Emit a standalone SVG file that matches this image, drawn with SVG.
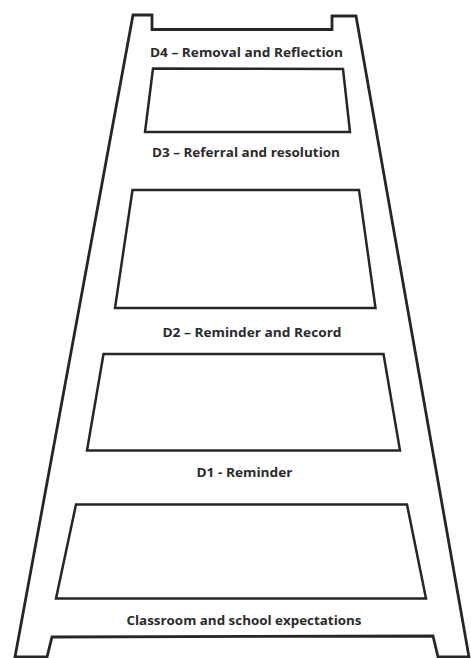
<svg xmlns="http://www.w3.org/2000/svg" width="471" height="658" viewBox="0 0 471 658">
<style>
.frame{fill:none;stroke:#262626;stroke-width:2.8;stroke-linejoin:miter}
.hole{fill:none;stroke:#262626;stroke-width:2.5;stroke-linejoin:miter}
.lbl{font-family:"Open Sans","Liberation Sans",sans-serif;font-weight:bold;font-size:12.5px;fill:#2a2a2a;text-anchor:middle}
</style>
<rect width="471" height="658" fill="#ffffff"/>
<g id="ladder">
<polygon class="frame" points="133,15 152,15 152,29.5 332,29.5 332,16 356,16 469,657 438,657 433,636 52,637 47,657 15,657"/>
</g>
<g id="gap-top"><polygon class="hole" points="153,68.5 343,69 350,132 145,132"/></g>
<g id="gap-2"><polygon class="hole" points="132.5,190 359,190 375.5,308 115,308"/></g>
<g id="gap-3"><polygon class="hole" points="103.5,354 383.5,354 400,450.5 87,450.5"/></g>
<g id="gap-4"><polygon class="hole" points="76,504.5 407,504.5 426,598.5 56,598.5"/></g>
<g id="rung-d4"><text class="lbl" x="246.5" y="56.5" textLength="193" lengthAdjust="spacingAndGlyphs">D4 – Removal and Reflection</text></g>
<g id="rung-d3"><text class="lbl" x="246" y="156.5" textLength="188" lengthAdjust="spacingAndGlyphs">D3 – Referral and resolution</text></g>
<g id="rung-d2"><text class="lbl" x="252" y="336.5" textLength="179" lengthAdjust="spacingAndGlyphs">D2 – Reminder and Record</text></g>
<g id="rung-d1"><text class="lbl" x="244.5" y="476.5" textLength="96" lengthAdjust="spacingAndGlyphs">D1 - Reminder</text></g>
<g id="rung-base"><text class="lbl" x="244" y="624.5" textLength="235" lengthAdjust="spacingAndGlyphs">Classroom and school expectations</text></g>
</svg>
